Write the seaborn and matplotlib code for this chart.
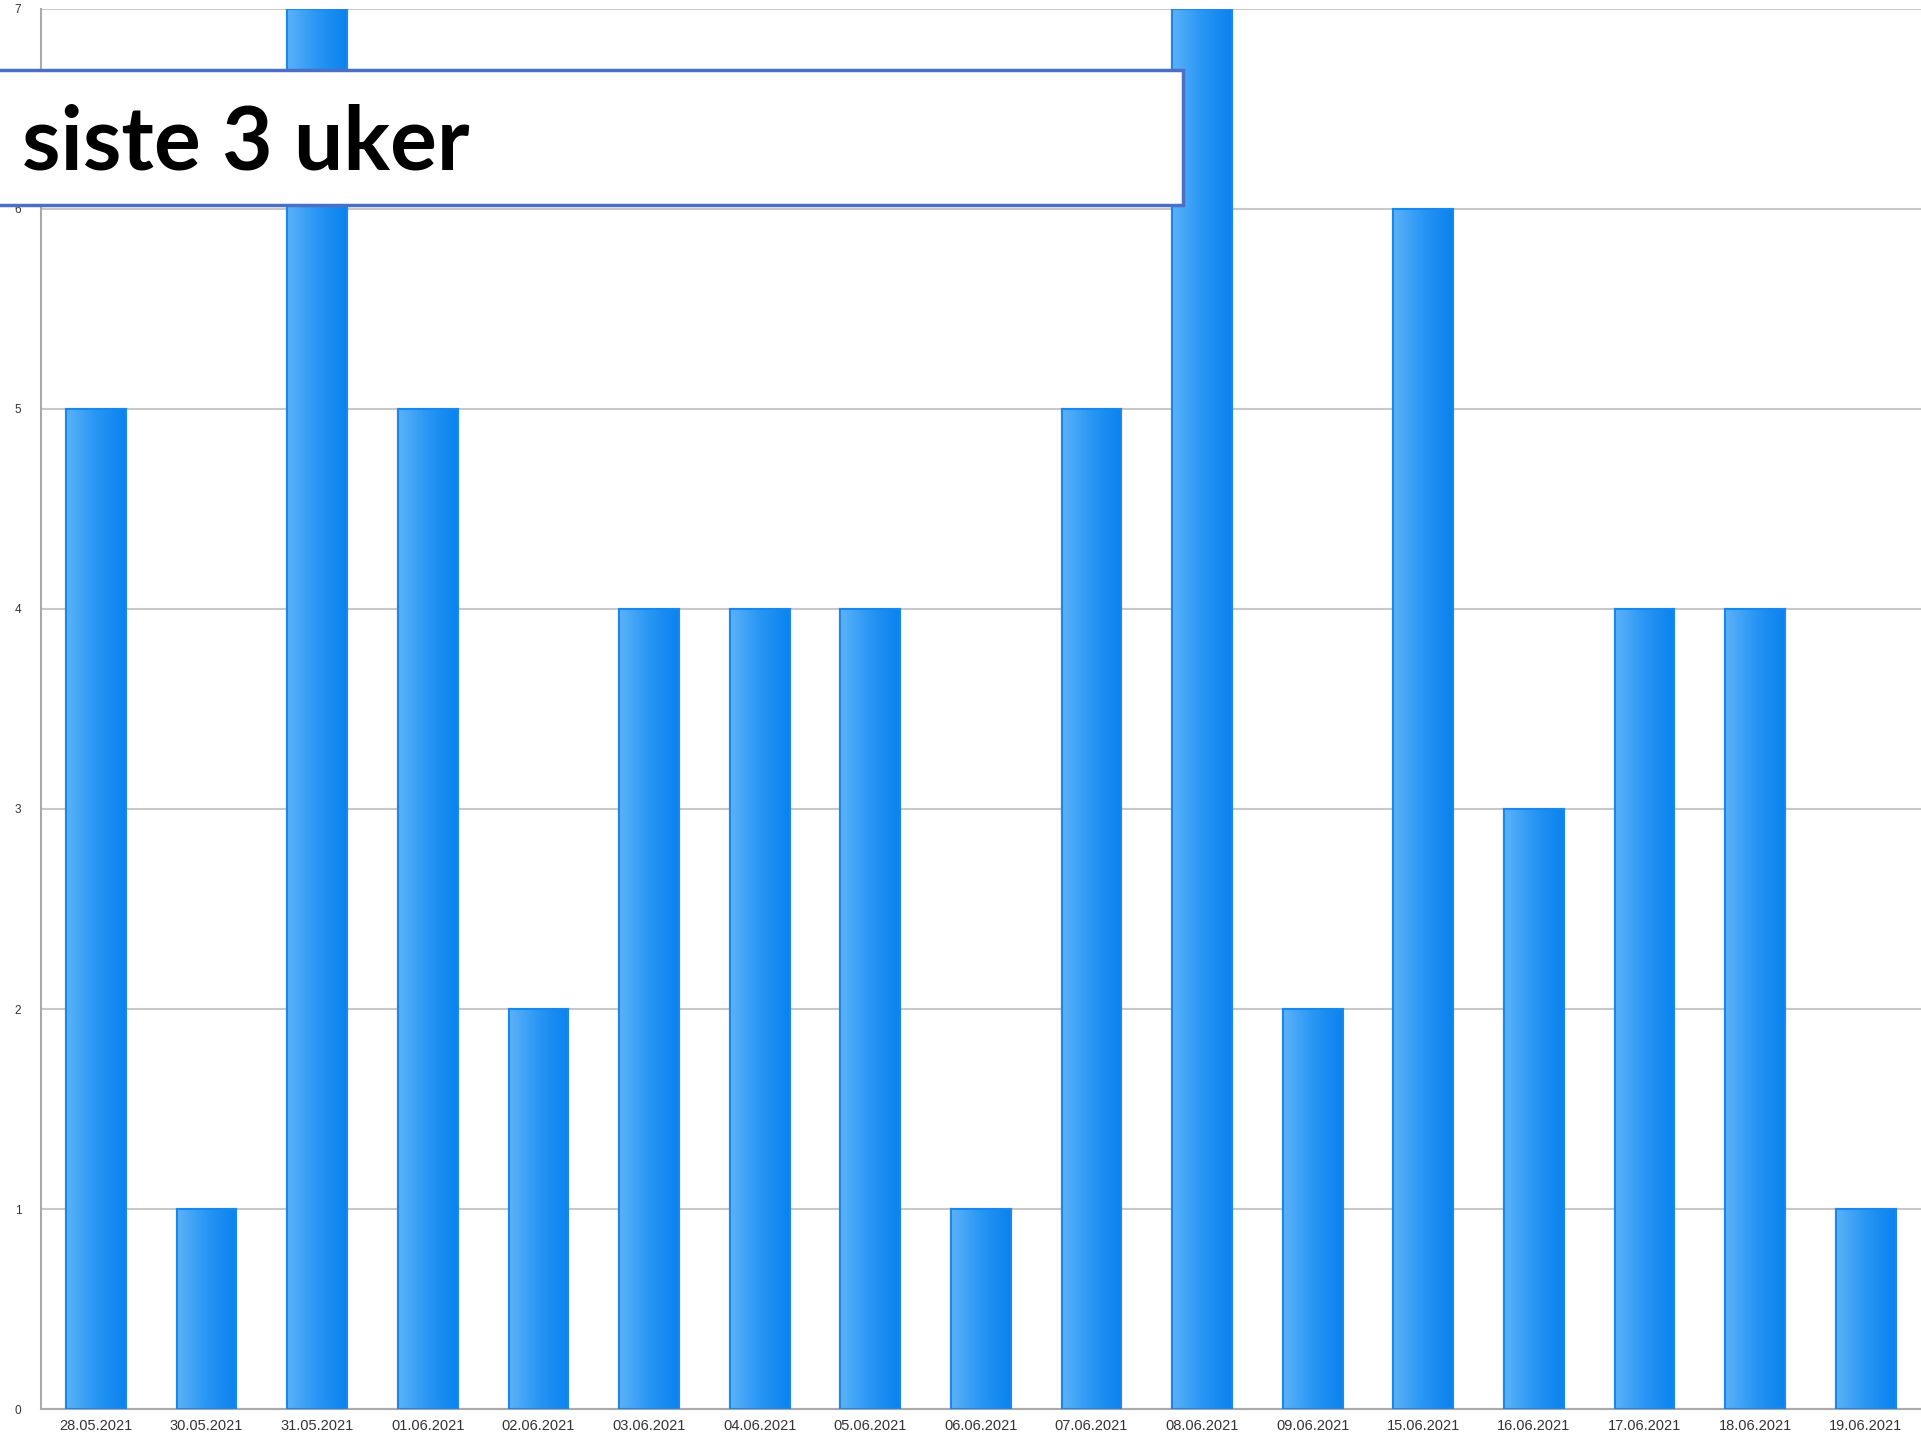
import numpy as np
import pandas as pd
import matplotlib
matplotlib.use("Agg")
import matplotlib.pyplot as plt
from matplotlib.colors import LinearSegmentedColormap
from matplotlib.patches import Rectangle
import seaborn as sns

dates = ["28.05.2021", "30.05.2021", "31.05.2021", "01.06.2021", "02.06.2021",
         "03.06.2021", "04.06.2021", "05.06.2021", "06.06.2021", "07.06.2021",
         "08.06.2021", "09.06.2021", "15.06.2021", "16.06.2021", "17.06.2021",
         "18.06.2021", "19.06.2021"]
counts = [5, 1, 7, 5, 2, 4, 4, 4, 1, 5, 7, 2, 6, 3, 4, 4, 1]
y_ticks = [0, 1, 2, 3, 4, 5, 6, 7]
title_text = "siste 3 uker"

df = pd.DataFrame({"dato": dates, "antall": counts})

sns.set_style("white")
plt.rcParams["font.family"] = ["Liberation Sans", "DejaVu Sans"]

fig = plt.figure(figsize=(19.21, 14.40), dpi=100)
ax = fig.add_axes([0.0212, 0.0215, 0.9788, 0.9723])

sns.barplot(data=df, x="dato", y="antall", ax=ax, color="#2a8ef0",
            width=0.54, edgecolor="#1a87ec", linewidth=1.5, zorder=2)

# horizontal gradient inside each bar (light left -> saturated right)
grad_cmap = LinearSegmentedColormap.from_list("bar", ["#5cb2f8", "#2896f4", "#0a82ef"])
grad = np.linspace(0, 1, 256).reshape(1, -1)
for p in ax.patches:
    x0, w, h = p.get_x(), p.get_width(), p.get_height()
    im = ax.imshow(grad, cmap=grad_cmap, aspect="auto",
                   extent=(x0, x0 + w, 0, h), zorder=2.5, interpolation="bilinear")
    im.set_clip_path(p)
    ax.add_patch(Rectangle((x0, 0), w, h, fill=False, edgecolor="#1a87ec",
                           linewidth=1.5, zorder=3))

ax.set_xlim(-0.5, len(dates) - 0.5)
ax.set_ylim(0, 7)
ax.set_yticks(y_ticks)
ax.set_yticklabels([str(v) for v in y_ticks], fontsize=8.5, color="#333333")
ax.set_xticks(range(len(dates)))
ax.set_xticklabels(dates, fontsize=10.5, color="#333333")
ax.set_xticks(np.arange(-0.5, len(dates), 1), minor=True)
ax.tick_params(axis="x", which="major", length=0, pad=7)
ax.tick_params(axis="x", which="minor", length=6, width=1.2, color="#aaaaaa")
ax.tick_params(axis="y", length=6, width=1.2, color="#aaaaaa", pad=8)
ax.set_xlabel("")
ax.set_ylabel("")

ax.grid(axis="y", color="#c8c8c8", linewidth=1.5, zorder=0)
ax.set_axisbelow(True)
for side in ["top", "right"]:
    ax.spines[side].set_visible(False)
for side in ["left", "bottom"]:
    ax.spines[side].set_color("#aaaaaa")
    ax.spines[side].set_linewidth(1.5)

# title box overlay
box = Rectangle((-0.01, 0.8576), 0.6258, 0.0938, transform=fig.transFigure,
                facecolor="white", edgecolor="#4a6fc4", linewidth=2.5, zorder=10)
fig.patches.append(box)
fig.text(0.0115, 0.882, title_text, fontsize=63, fontweight="bold",
         family=["Lato", "DejaVu Sans"], color="black",
         ha="left", va="baseline", zorder=11)

fig.savefig("out.png", dpi=100)
plt.close(fig)
